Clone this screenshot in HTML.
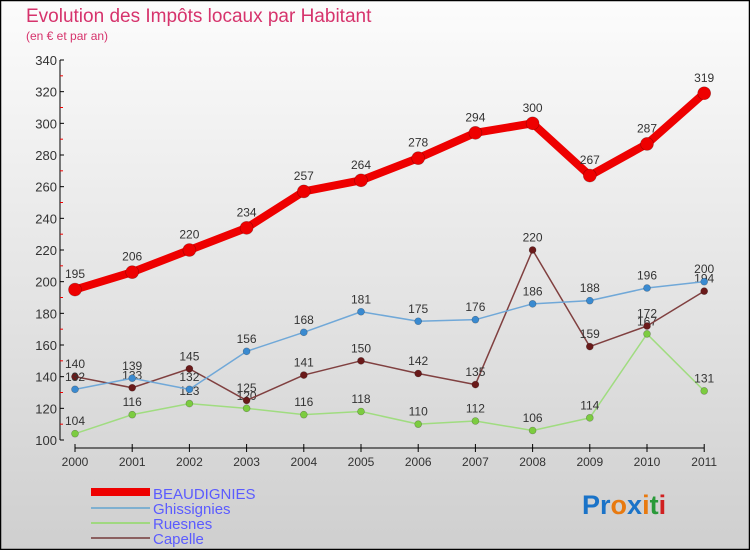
<!DOCTYPE html>
<html><head><meta charset="utf-8"><style>
body{margin:0}
#c{width:750px;height:550px;position:relative;font-family:"Liberation Sans",sans-serif}
</style></head><body>
<div id="c">
<svg id="s" width="750" height="550" xmlns="http://www.w3.org/2000/svg">
<defs><linearGradient id="bg" x1="0" y1="0" x2="0" y2="1"><stop offset="0" stop-color="#fcfcfc"/><stop offset="1" stop-color="#cfcfcf"/></linearGradient></defs>
<rect x="0.5" y="0.5" width="749" height="549" fill="url(#bg)" stroke="#000" stroke-width="1.5"/>
<text x="26" y="22" font-size="19" fill="#d6336c">Evolution des Impôts locaux par Habitant</text>
<text x="26" y="40" font-size="12" fill="#d6336c">(en € et par an)</text>
<g id="axes"></g><g id="series"></g>
<g font-size="15" fill="#5b5bff">
<rect x="91" y="488" width="59" height="8" fill="#e00"/>
<text x="153" y="499">BEAUDIGNIES</text>
<rect x="91" y="507" width="59" height="2" fill="#7fb0d0"/>
<text x="153" y="514">Ghissignies</text>
<rect x="91" y="522" width="59" height="2" fill="#a0d880"/>
<text x="153" y="529">Ruesnes</text>
<rect x="91" y="537" width="59" height="2" fill="#8b6060"/>
<text x="153" y="544">Capelle</text>
</g>
<g font-size="27" font-weight="bold">
<text x="582" y="514"><tspan fill="#1a73c8">Pr</tspan><tspan fill="#e87a10">o</tspan><tspan fill="#1a73c8">x</tspan><tspan fill="#e87a10">i</tspan><tspan fill="#2a9a3a">t</tspan><tspan fill="#d02020">i</tspan></text>
</g>
</svg></div>
<script>
const years=[2000,2001,2002,2003,2004,2005,2006,2007,2008,2009,2010,2011];
const beaudignies=[195,206,220,234,257,264,278,294,300,267,287,319];
const ghissignies=[132,139,132,156,168,181,175,176,186,188,196,200];
const ruesnes=[104,116,123,120,116,118,110,112,106,114,167,131];
const capelle=[140,133,145,125,141,150,142,135,220,159,172,194];
const yTicks=[100,120,140,160,180,200,220,240,260,280,300,320,340];
const NS="http://www.w3.org/2000/svg";
const X=i=>75+i*57.2;
const Y=v=>440-(v-100)*380/240;
function mk(tag,attrs,parent){const e=document.createElementNS(NS,tag);for(const k in attrs)e.setAttribute(k,attrs[k]);parent.appendChild(e);return e;}
const ax=document.getElementById('axes');
let e=mk('line',{x1:60,y1:Y(340),x2:60,y2:Y(100),stroke:'#000'},ax);


e=mk('line',{x1:75,y1:448,x2:X(11),y2:448,stroke:'#000'},ax);


yTicks.forEach((t,i)=>{
 mk('line',{x1:60,y1:Y(t),x2:64,y2:Y(t),stroke:'#000'},ax);
 if(i<yTicks.length-1) mk('line',{x1:60,y1:Y(t+10),x2:63,y2:Y(t+10),stroke:'#e00'},ax);
 const l=mk('text',{x:57,y:Y(t)+5,'font-size':13,'text-anchor':'end',fill:'#333'},ax);
 l.textContent=t;
 
 
});
years.forEach((y,i)=>{
 mk('line',{x1:X(i),y1:444,x2:X(i),y2:452,stroke:'#000'},ax);
 const l=mk('text',{x:X(i),y:466,'font-size':12,'text-anchor':'middle',fill:'#333'},ax);
 l.textContent=y;
 
 
});
const sg=document.getElementById('series');
function series(vals,name,color,w,r,dot){
 const g=mk('g',{},sg);
 
 
 const p=mk('polyline',{points:vals.map((v,i)=>X(i)+','+Y(v)).join(' '),fill:'none',stroke:color,'stroke-width':w,'stroke-linejoin':'round'},g);
 
 
 vals.forEach((v,i)=>{
  const c=mk('circle',{cx:X(i),cy:Y(v),r:r,fill:dot,stroke:'rgba(0,0,0,0.3)','stroke-width':0.6},g);
  
  
  const t=mk('text',{x:X(i),y:Y(v)-(r+5),'font-size':12,'text-anchor':'middle',fill:'#333'},g);
  t.textContent=v;
  
  
 });
}
series(ruesnes,'ruesnes','#a0dc80',1.5,3.5,'#7ccc40');
series(capelle,'capelle','#804040',1.5,3.5,'#6a1a1a');
series(ghissignies,'ghissignies','#70a8d8',1.5,3.5,'#3a8ad0');
series(beaudignies,'beaudignies','#ee0000',8,6.5,'#ee0000');
</script>
</body></html>
